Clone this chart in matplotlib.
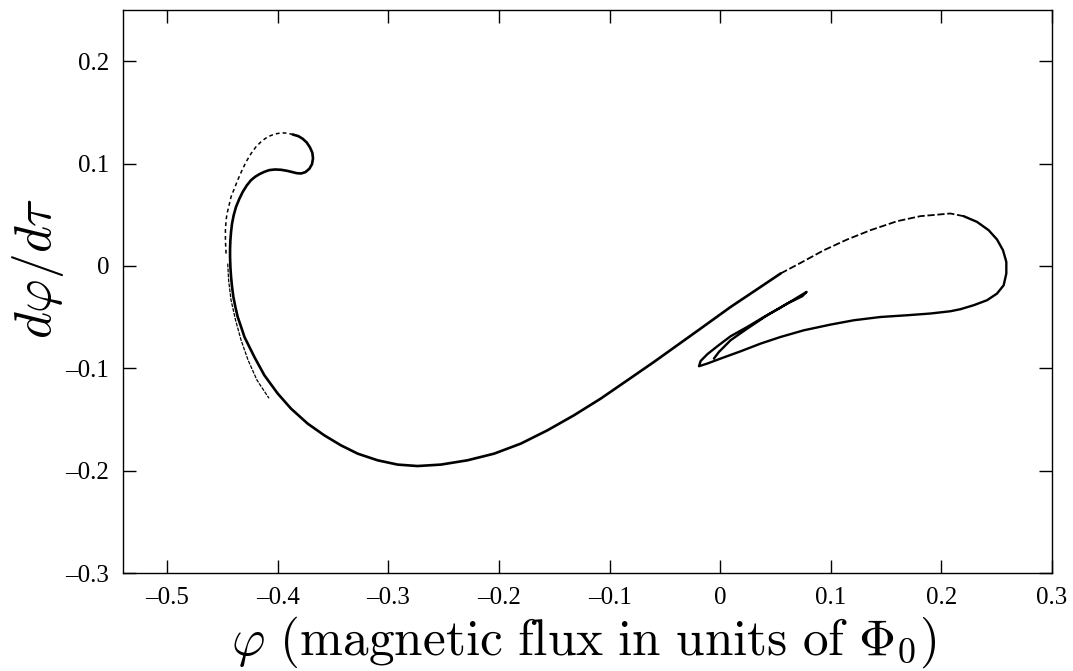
import matplotlib
matplotlib.use('Agg')
import matplotlib.pyplot as plt
from matplotlib.ticker import FixedLocator, FuncFormatter

# main solid branch: hook, left side, bottom arc, rising line
main_x = [-0.3866, -0.3815, -0.3775, -0.3739, -0.3709, -0.3688, -0.3682, -0.3691,
          -0.3715, -0.3751, -0.3790, -0.3830, -0.3866, -0.3917, -0.3971, -0.4025,
          -0.4077, -0.4122, -0.4167, -0.4206, -0.4242, -0.4281, -0.4317, -0.4348,
          -0.4378, -0.4399, -0.4414, -0.4423, -0.4429, -0.4432, -0.4432, -0.4429,
          -0.4423, -0.4414, -0.4402, -0.4384, -0.4363, -0.4332, -0.4302,
          -0.4212, -0.4122, -0.4001, -0.3881, -0.3730, -0.3580, -0.3429, -0.3278,
          -0.3098, -0.2917, -0.2736, -0.2526, -0.2285, -0.2044, -0.1803, -0.1562,
          -0.1322, -0.1080, -0.0839, -0.0599, -0.0388, -0.0177, 0.0094, 0.0320,
          0.0546]
main_y = [0.1284, 0.1268, 0.1242, 0.1206, 0.1157, 0.1105, 0.1050, 0.0994,
          0.0949, 0.0916, 0.0903, 0.0906, 0.0916, 0.0929, 0.0939, 0.0942,
          0.0936, 0.0919, 0.0896, 0.0870, 0.0838, 0.0786, 0.0724, 0.0655,
          0.0577, 0.0496, 0.0414, 0.0333, 0.0251, 0.0170, 0.0088, -0.0010,
          -0.0107, -0.0205, -0.0303, -0.0401, -0.0498, -0.0596, -0.0694,
          -0.0890, -0.1068, -0.1247, -0.1394, -0.1541, -0.1655, -0.1753, -0.1834,
          -0.1899, -0.1941, -0.1955, -0.1941, -0.1899, -0.1834, -0.1736, -0.1606,
          -0.1459, -0.1296, -0.1117, -0.0938, -0.0775, -0.0612, -0.0401, -0.0238,
          -0.0074]

# sparse upper part of the right loop
upper_x = [0.0546, 0.0726, 0.0937, 0.1148, 0.1359, 0.1600, 0.1810, 0.2081, 0.2201]
upper_y = [-0.0074, 0.0029, 0.0153, 0.0258, 0.0349, 0.0437, 0.0486, 0.0512, 0.0486]

# right loop, lower branch and the inner fold
loop_x = [0.2201, 0.2322, 0.2427, 0.2503, 0.2557, 0.2587, 0.2587, 0.2563,
          0.2503, 0.2413, 0.2292, 0.2172, 0.2081, 0.1901, 0.1690, 0.1449,
          0.1208, 0.0999, 0.0756, 0.0546, 0.0365, 0.0185, 0.0004, -0.0117,
          -0.0192, -0.0177, -0.0117, -0.0026, 0.0094, 0.0245, 0.0395, 0.0546,
          0.0666, 0.0781, 0.0742, 0.0606, 0.0425, 0.0245, 0.0094, -0.0012,
          -0.0057]
loop_y = [0.0486, 0.0430, 0.0349, 0.0258, 0.0153, 0.0039, -0.0074, -0.0189,
          -0.0270, -0.0335, -0.0384, -0.0423, -0.0443, -0.0465, -0.0482, -0.0499,
          -0.0531, -0.0573, -0.0629, -0.0694, -0.0759, -0.0834, -0.0905, -0.0954,
          -0.0980, -0.0929, -0.0863, -0.0785, -0.0687, -0.0596, -0.0499, -0.0407,
          -0.0329, -0.0254, -0.0296, -0.0368, -0.0482, -0.0612, -0.0726, -0.0841,
          -0.0905]

# thin dotted outer edge of the hook
outer_x = [-0.4468, -0.4474, -0.4474, -0.4468, -0.4459, -0.4441, -0.4423,
           -0.4393, -0.4363, -0.4326, -0.4287, -0.4242, -0.4197, -0.4146,
           -0.4092, -0.4031, -0.3971, -0.3917, -0.3866]
outer_y = [0.0121, 0.0251, 0.0349, 0.0447, 0.0512, 0.0593, 0.0675,
           0.0756, 0.0838, 0.0929, 0.1017, 0.1098, 0.1164, 0.1219,
           0.1261, 0.1287, 0.1300, 0.1297, 0.1284]

# second strand along the left side
strand_x = [-0.4453, -0.4445, -0.4423, -0.4382, -0.4332, -0.4269, -0.4188, -0.4080]
strand_y = [0.0023, -0.0140, -0.0335, -0.0531, -0.0726, -0.0921, -0.1117, -0.1293]

x_ticks = [-0.5, -0.4, -0.3, -0.2, -0.1, 0.0, 0.1, 0.2, 0.3]
y_ticks = [-0.3, -0.2, -0.1, 0.0, 0.1, 0.2]


def tick_text(v, pos):
    if abs(v) < 1e-9:
        return '0'
    s = '%.1f' % abs(v)
    return ('\u2013' + s) if v < 0 else s


plt.rcParams['mathtext.fontset'] = 'cm'
plt.rcParams['font.family'] = 'Liberation Serif'

fig = plt.figure(figsize=(10.73, 6.71), dpi=100)
ax = fig.add_axes([123 / 1073, 1 - 573 / 671, 929 / 1073, 563 / 671])

ax.plot(main_x, main_y, color='black', lw=1.9, solid_capstyle='round',
        solid_joinstyle='round')
ax.plot(upper_x, upper_y, color='black', lw=1.3, linestyle=(0, (4, 1.5)))
ax.plot(loop_x, loop_y, color='black', lw=1.7, solid_capstyle='round',
        solid_joinstyle='round')
ax.plot(outer_x, outer_y, color='black', lw=1.1, linestyle=(0, (2.5, 2)))
ax.plot(strand_x, strand_y, color='black', lw=0.9, linestyle=(0, (3, 1)))

ax.set_xlim(-0.54, 0.3)
ax.set_ylim(-0.3, 0.25)
ax.xaxis.set_major_locator(FixedLocator(x_ticks))
ax.yaxis.set_major_locator(FixedLocator(y_ticks))
ax.xaxis.set_major_formatter(FuncFormatter(tick_text))
ax.yaxis.set_major_formatter(FuncFormatter(tick_text))
ax.tick_params(direction='in', length=9.5, width=1.0, top=True, right=True,
               labelsize=18, pad=10)
for sp in ax.spines.values():
    sp.set_linewidth(1.0)

fig.text(584 / 1073, 1 - 655 / 671,
         r'$\varphi\ \mathrm{(magnetic\ flux\ in\ units\ of\ }\Phi_0\mathrm{)}$',
         fontsize=37, ha='center', va='baseline')
fig.text(38 / 1073, 1 - 268 / 671, r'$d\varphi/d\tau$', fontsize=37,
         rotation=90, ha='center', va='center')

fig.savefig('out.png', dpi=100)
